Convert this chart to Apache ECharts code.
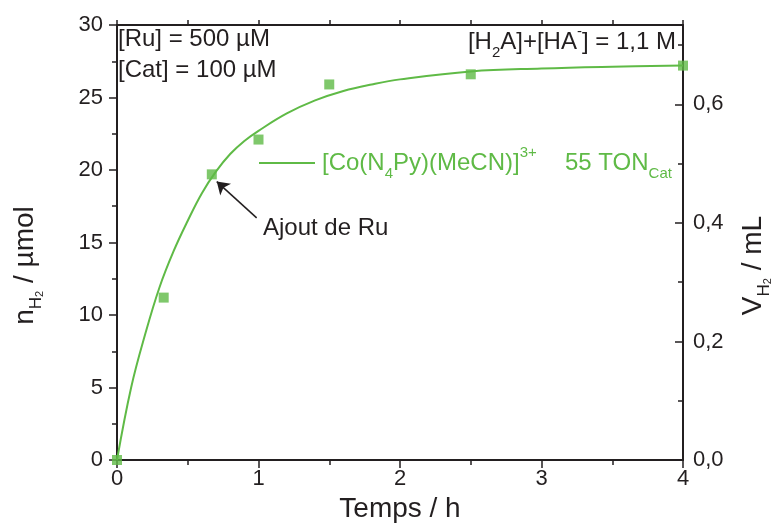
<!DOCTYPE html>
<html>
<head>
<meta charset="utf-8">
<script src="https://cdn.jsdelivr.net/npm/echarts@6/dist/echarts.min.js"></script>
<style>
html,body{margin:0;padding:0;background:#fff;}
#chart{width:771px;height:525px;}
</style>
</head>
<body>
<div id="chart"></div>
<script>
// Measured points (time in h, n(H2) in µmol)
const timeH = [0, 0.33, 0.67, 1.0, 1.5, 2.5, 4.0];
const nH2 = [0, 11.2, 19.7, 22.1, 25.9, 26.6, 27.2];
// Fit curve
const fitT = [0, 0.1, 0.2, 0.3, 0.4, 0.5, 0.6, 0.7, 0.8, 0.9, 1.0, 1.2, 1.4, 1.6, 1.8, 2.0, 2.5, 3.0, 3.5, 4.0];
const fitN = [0, 5.0, 8.7, 11.9, 14.4, 16.5, 18.4, 19.9, 21.1, 22.0, 22.7, 23.9, 24.8, 25.45, 25.9, 26.25, 26.8, 27.0, 27.12, 27.2];
// Axes
const xTicks = [0, 1, 2, 3, 4];
const leftTicks = [0, 5, 10, 15, 20, 25, 30];
const rightTicks = ['0,0', '0,2', '0,4', '0,6'];
const rightMax = 0.734; // mL at top of the plot (30 µmol)
// Arrow annotation (tail -> head, data units)
const arrowTail = [0.987, 16.7];
const arrowHead = [0.705, 19.2];

const GREEN = '#5fba46';
const INK = '#231f20';
const FONT = '"Liberation Sans", Arial, sans-serif';

const chart = echarts.init(document.getElementById('chart'), null, {renderer: 'canvas'});

const pairs = (xs, ys) => xs.map((x, i) => [x, ys[i]]);

const richBase = {
  m: {fontSize: 24, lineHeight: 36, fill: INK, fontFamily: FONT},
  sb: {fontSize: 15, lineHeight: 15, verticalAlign: 'bottom', fill: INK, fontFamily: FONT},
  sp: {fontSize: 15, lineHeight: 26, verticalAlign: 'top', fill: INK, fontFamily: FONT}
};
const richGreen = {
  m: {fontSize: 24, lineHeight: 36, fill: GREEN, fontFamily: FONT},
  sb: {fontSize: 15, lineHeight: 15, verticalAlign: 'bottom', fill: GREEN, fontFamily: FONT},
  sp: {fontSize: 15, lineHeight: 26, verticalAlign: 'top', fill: GREEN, fontFamily: FONT}
};

const axisNameRich = {
  a: {fontSize: 28, lineHeight: 40, color: INK, fontFamily: FONT},
  b: {fontSize: 17, lineHeight: 17, verticalAlign: 'bottom', color: INK, fontFamily: FONT},
  c: {fontSize: 11, lineHeight: 9, verticalAlign: 'bottom', color: INK, fontFamily: FONT}
};

const option = {
  animation: false,
  backgroundColor: '#fff',
  textStyle: {fontFamily: FONT},
  grid: {left: 117, right: 88, top: 25, bottom: 65, containLabel: false, outerBoundsMode: 'none'},
  xAxis: [{
    type: 'value', position: 'bottom', min: 0, max: 4, interval: 1,
    axisLine: {show: true, onZero: false, lineStyle: {color: INK, width: 2}},
    axisTick: {show: true, inside: false, length: 8, lineStyle: {color: INK, width: 1.5}},
    minorTick: {show: true, splitNumber: 2, length: 5, lineStyle: {color: INK, width: 1.5}},
    axisLabel: {fontSize: 22, color: INK, margin: 8, fontFamily: FONT,
      formatter: v => xTicks.includes(v) ? String(v) : ''},
    splitLine: {show: false},
    name: 'Temps / h', nameLocation: 'middle', nameGap: 27,
    nameTextStyle: {fontSize: 28, color: INK, fontFamily: FONT}
  }, {
    type: 'value', position: 'top', min: 0, max: 4, interval: 0.5,
    axisLine: {show: true, onZero: false, lineStyle: {color: INK, width: 2}},
    axisTick: {show: true, inside: false, length: 5, lineStyle: {color: INK, width: 1.5}},
    axisLabel: {show: false},
    splitLine: {show: false}
  }],
  yAxis: [{
    type: 'value', position: 'left', min: 0, max: 30, interval: 5,
    axisLine: {show: true, onZero: false, lineStyle: {color: INK, width: 2}},
    axisTick: {show: true, inside: false, length: 8, lineStyle: {color: INK, width: 1.5}},
    minorTick: {show: true, splitNumber: 2, length: 5, lineStyle: {color: INK, width: 1.5}},
    axisLabel: {fontSize: 22, color: INK, margin: 14, fontFamily: FONT,
      formatter: v => leftTicks.includes(v) ? String(v) : ''},
    splitLine: {show: false},
    name: '{a|n}{b|H}{c|2}{a| / µmol}', nameLocation: 'middle', nameGap: 72,
    nameTextStyle: {rich: axisNameRich, padding: [0, 46, 0, 0]}
  }, {
    type: 'value', position: 'right', min: 0, max: rightMax, interval: 0.2,
    axisLine: {show: true, onZero: false, lineStyle: {color: INK, width: 2}},
    axisTick: {show: true, inside: true, length: 8, lineStyle: {color: INK, width: 1.5}},
    minorTick: {show: true, splitNumber: 2, length: 5, lineStyle: {color: INK, width: 1.5}},
    axisLabel: {fontSize: 22, color: INK, margin: 10, fontFamily: FONT,
      formatter: v => {
        const k = Math.round(v / 0.2);
        return (Math.abs(v - k * 0.2) < 1e-6 && k < rightTicks.length) ? rightTicks[k] : '';
      }},
    splitLine: {show: false},
    name: '{a|V}{b|H}{c|2}{a| / mL}', nameLocation: 'middle', nameGap: 50,
    nameTextStyle: {rich: axisNameRich, padding: [0, 46, 0, 0]}
  }],
  series: [{
    type: 'line', xAxisIndex: 0, yAxisIndex: 0,
    data: pairs(fitT, fitN), smooth: 0.4, showSymbol: false, symbol: 'none',
    lineStyle: {color: GREEN, width: 2}, z: 2
  }, {
    type: 'scatter', xAxisIndex: 0, yAxisIndex: 0,
    data: pairs(timeH, nH2), symbol: 'rect', symbolSize: 10,
    itemStyle: {color: GREEN}, z: 3,
    markLine: {
      silent: true, animation: false, symbol: ['none', 'arrow'], symbolSize: 12,
      label: {show: false},
      lineStyle: {color: INK, width: 1.5, type: 'solid'},
      data: [[{coord: arrowTail}, {coord: arrowHead}]]
    }
  }],
  graphic: [
    {type: 'text', left: 118, top: 27, style: {text: '[Ru] = 500 µM', font: '24px ' + FONT, fill: INK}},
    {type: 'text', left: 118, top: 58, style: {text: '[Cat] = 100 µM', font: '24px ' + FONT, fill: INK}},
    {type: 'text', x: 676, y: 42, style: {
      text: '{m|[H}{sb|2}{m|A]+[HA}{sp|-}{m|] = 1,1 M}', rich: richBase,
      align: 'right', verticalAlign: 'middle'}},
    {type: 'line', shape: {x1: 259, y1: 163, x2: 315, y2: 163}, style: {stroke: GREEN, lineWidth: 2}},
    {type: 'text', x: 322, y: 163, style: {
      text: '{m|[Co(N}{sb|4}{m|Py)(MeCN)]}{sp|3+}', rich: richGreen,
      align: 'left', verticalAlign: 'middle'}},
    {type: 'text', x: 565, y: 163, style: {
      text: '{m|55 TON}{sb|Cat}', rich: richGreen,
      align: 'left', verticalAlign: 'middle'}},
    {type: 'text', x: 263, y: 228, style: {text: 'Ajout de Ru', font: '24px ' + FONT, fill: INK,
      align: 'left', verticalAlign: 'middle'}}
  ]
};
chart.setOption(option);
</script>
</body>
</html>
